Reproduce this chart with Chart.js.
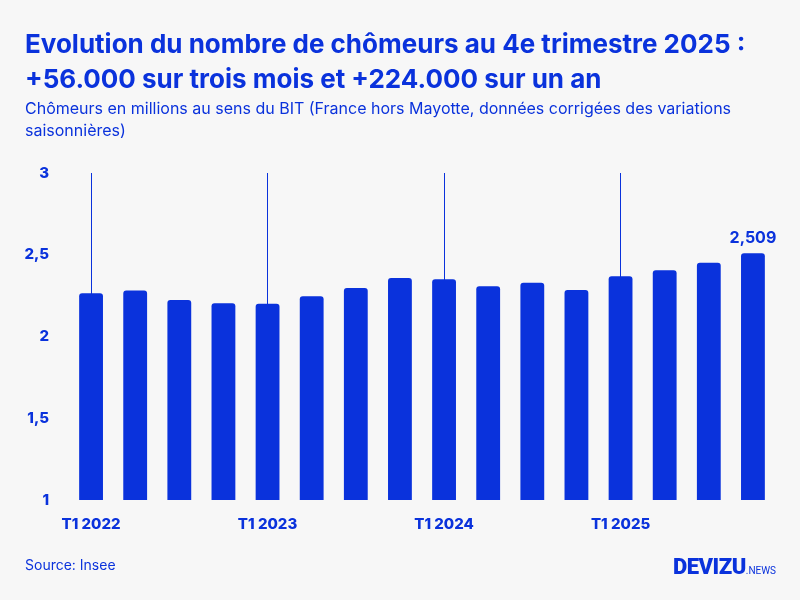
<!DOCTYPE html>
<html lang="fr">
<head>
<meta charset="utf-8">
<script src="https://cdn.jsdelivr.net/npm/chart.js@4.4.1/dist/chart.umd.min.js"></script>
<style>
  html, body { margin: 0; padding: 0; background: #f7f7f7; }
  #wrap { position: relative; width: 800px; height: 600px; overflow: hidden; font-family: "Inter", sans-serif; color: #0a32dc; }
  #chart { position: absolute; left: 0; top: 0; }
  h1 { position: absolute; left: 25px; top: 26px; margin: 0; font-size: 26px; line-height: 35px; font-weight: 700; }
  .sub { position: absolute; left: 25px; top: 97px; margin: 0; font-size: 16px; line-height: 22px; font-weight: 400; width: 740px; }
  .src { position: absolute; left: 25px; top: 556px; font-size: 14px; }
  .logo { position: absolute; left: 673px; top: 554px; font-family: "Liberation Sans Narrow", "Roboto", sans-serif; }
  .logo b { font-size: 22px; font-weight: 900; letter-spacing: -0.5px; }
  .logo span { font-size: 10px; }
</style>
</head>
<body>
<div id="wrap">
  <canvas id="chart" width="800" height="600"></canvas>
  <h1>Evolution du nombre de chômeurs au 4e trimestre 2025 :<br>+56.000 sur trois mois et +224.000 sur un an</h1>
  <p class="sub">Chômeurs en millions au sens du BIT (France hors Mayotte, données corrigées des variations saisonnières)</p>
  <div class="src">Source: Insee</div>
  <div class="logo"><b>DEVIZU</b><span>.NEWS</span></div>
</div>
<script>
// ========================== DATA ==========================
const quarters = [
  "T1 2022", "T2 2022", "T3 2022", "T4 2022",
  "T1 2023", "T2 2023", "T3 2023", "T4 2023",
  "T1 2024", "T2 2024", "T3 2024", "T4 2024",
  "T1 2025", "T2 2025", "T3 2025", "T4 2025"
];
const chomeurs = [
  2.264, 2.282, 2.223, 2.203,
  2.200, 2.246, 2.296, 2.358,
  2.350, 2.307, 2.329, 2.284,
  2.368, 2.405, 2.451, 2.509
];
const yTicks = [1, 1.5, 2, 2.5, 3];

const BLUE = "#0a32dc";

// ========================== LAST VALUE LABEL ==========================
const lastLabel = {
  id: "lastLabel",
  afterDatasetsDraw(chart) {
    const meta = chart.getDatasetMeta(0);
    const i = chomeurs.length - 1;
    const bar = meta.data[i];
    const ctx = chart.ctx;
    ctx.save();
    ctx.fillStyle = BLUE;
    ctx.font = "700 16px Inter";
    ctx.textAlign = "center";
    ctx.textBaseline = "alphabetic";
    ctx.fillText(chomeurs[i].toFixed(3).replace(".", ","), bar.x, bar.y - 10);
    ctx.restore();
  }
};

// ========================== CHART ==========================
new Chart(document.getElementById("chart"), {
  type: "bar",
  data: {
    labels: quarters,
    datasets: [{
      data: chomeurs,
      backgroundColor: BLUE,
      borderRadius: 3,
      borderSkipped: false,
      barPercentage: 0.54,
      categoryPercentage: 1
    }]
  },
  options: {
    responsive: false,
    animation: false,
    layout: { padding: { top: 173, left: 24, right: 25, bottom: 70 } },
    plugins: { legend: { display: false }, tooltip: { enabled: false } },
    scales: {
      x: {
        border: { display: false },
        grid: {
          offset: false,
          drawTicks: false,
          lineWidth: 1,
          color: c => (c.index % 4 === 0 ? BLUE : "rgba(0,0,0,0)")
        },
        ticks: {
          autoSkip: false,
          maxRotation: 0,
          padding: 15,
          color: BLUE,
          font: { family: "Inter", size: 15, weight: "800" },
          callback: (v, i) => (i % 4 === 0 ? quarters[i] : "")
        },
        afterFit: s => { s.height = 30; }
      },
      y: {
        min: 1,
        max: 3,
        border: { display: false },
        grid: { display: false, drawTicks: false },
        afterBuildTicks: s => { s.ticks = yTicks.map(v => ({ value: v })); },
        ticks: {
          padding: 20,
          color: BLUE,
          font: { family: "Inter", size: 15, weight: "800" },
          callback: v => String(v).replace(".", ",")
        },
        afterFit: s => { s.width = 45; }
      }
    }
  },
  plugins: [lastLabel]
});
</script>
</body>
</html>
